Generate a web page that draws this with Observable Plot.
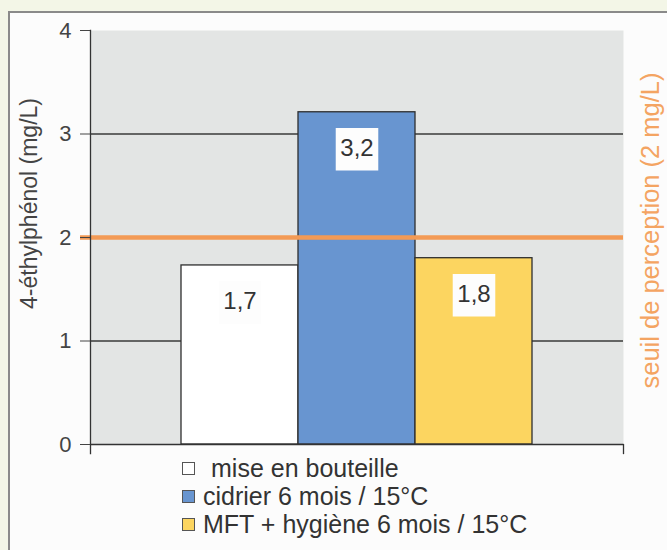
<!DOCTYPE html>
<html>
<head>
<meta charset="utf-8">
<script src="https://cdn.jsdelivr.net/npm/d3@7"></script>
<script src="https://cdn.jsdelivr.net/npm/@observablehq/plot@0.6"></script>
<style>
  html, body { margin: 0; padding: 0; }
  body { width: 667px; height: 550px; overflow: hidden; position: relative; background: #f3f6e7; font-family: "Liberation Sans", Arial, sans-serif; }
  #panel { position: absolute; left: 8px; top: 11px; width: 680px; height: 560px; border: 2px solid #8a8a8a; background: #fcfcfc; box-sizing: border-box; }
  #chart { position: absolute; left: 0; top: 0; }
  #legend { position: absolute; left: 182px; top: 454px; color: #333; font-size: 25px; }
  .row { display: flex; align-items: center; height: 28px; white-space: nowrap; }
  .sw { width: 13px; height: 13px; border: 1.3px solid #555; box-sizing: border-box; margin-right: 8px; flex: none; }
</style>
</head>
<body>
<div id="panel"></div>
<div id="chart"></div>
<div id="legend"></div>
<script>
// ---- data ----
const categories = ["mise en bouteille", "cidrier 6 mois / 15°C", "MFT + hygiène 6 mois / 15°C"];
const values = [1.73, 3.21, 1.80];
const colors = ["#ffffff", "#6895d0", "#fcd560"];
const yTicks = [0, 1, 2, 3, 4];
const gridValues = [1, 3];
const threshold = 2;
const yTitle = "4-éthylphénol (mg/L)";
const thresholdTitle = "seuil de perception (2 mg/L)";

const table = categories.map((c, i) => ({cat: c, value: values[i], color: colors[i]}));
const fmt = v => d3.format(".1f")(v).replace(".", ",");

const W = 667, H = 460, mT = 30, mB = 16;
const plot = Plot.plot({
  width: W, height: H,
  marginLeft: 90, marginRight: 44, marginTop: mT, marginBottom: mB,
  style: {fontFamily: "'Liberation Sans', Arial, sans-serif", background: "transparent", overflow: "visible"},
  x: {type: "band", domain: categories, paddingInner: 0, paddingOuter: 0.76, axis: null},
  y: {domain: [0, 4]},
  color: {type: "identity"},
  marks: [
    Plot.frame({fill: "#e3e5e4", stroke: null}),
    Plot.ruleY(gridValues, {stroke: "#3a3a3a", strokeWidth: 1.3}),
    Plot.barY(table, {x: "cat", y: "value", fill: "color", stroke: "#2e2e2e", strokeWidth: 1.3}),
    Plot.ruleY([threshold], {stroke: "#f39a55", strokeWidth: 4.5, insetLeft: -10}),
    Plot.frame({anchor: "left", stroke: "#333", strokeWidth: 1.3, insetBottom: -9}),
    Plot.frame({anchor: "right", stroke: "#333", strokeWidth: 1.3, insetTop: H - mT - mB, insetBottom: -9}),
    Plot.ruleY([0], {stroke: "#333", strokeWidth: 1.3}),
    Plot.axisY({ticks: yTicks, tickFormat: d => String(d), tickSize: 10, tickPadding: 9, fontSize: 22, label: null, color: "#444"}),
    Plot.dot(table, {x: "cat", y: "value", dy: 37, symbol: "square", r: 24, fill: "#fdfdfd"}),
    Plot.text(table, {x: "cat", y: "value", dy: 36, text: d => fmt(d.value), fontSize: 24, fill: "#333"}),
    Plot.text([yTitle], {frameAnchor: "left", textAnchor: "middle", dx: -61, dy: -34, rotate: -90, fontSize: 23, fill: "#444"}),
    Plot.text([thresholdTitle], {frameAnchor: "right", textAnchor: "middle", dx: 27, dy: -7, rotate: -90, fontSize: 25.5, fill: "#f4a462"})
  ]
});
document.getElementById("chart").appendChild(plot);

const legend = d3.select("#legend");
table.forEach((d, i) => {
  const row = legend.append("div").attr("class", "row");
  row.append("div").attr("class", "sw").style("background", d.color);
  row.append("span").style("margin-left", i === 0 ? "8px" : "0px").text(d.cat);
});
</script>
</body>
</html>
